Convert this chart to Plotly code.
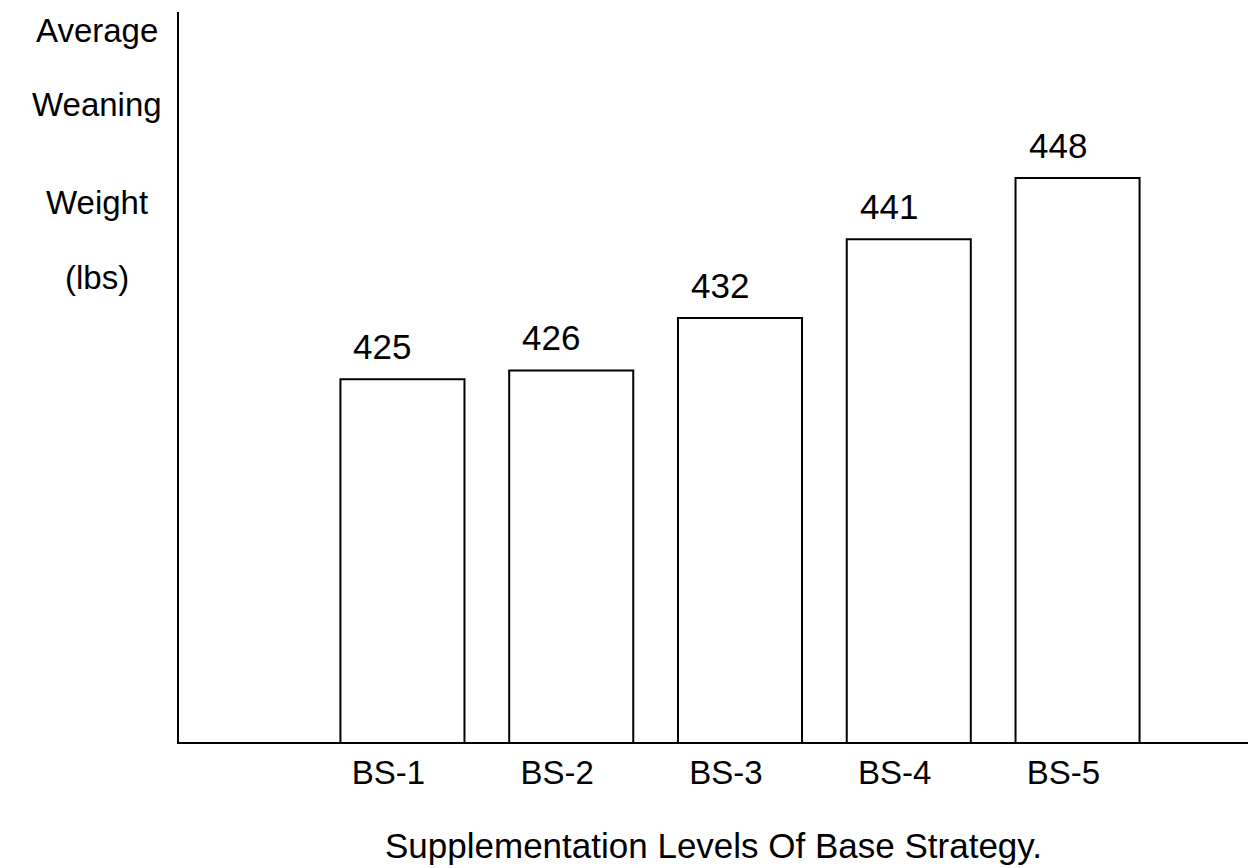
import plotly.graph_objects as go

# Average weaning weight by supplementation level
strategies = ["BS-1", "BS-2", "BS-3", "BS-4", "BS-5"]
weaning_weight = [425, 426, 432, 441, 448]
y_title_lines = ["Average", "Weaning", "Weight", "(lbs)"]
x_title = "Supplementation Levels Of Base Strategy."

FONT = "Liberation Sans, Arial, Helvetica, sans-serif"
FS = 33
FS_BIG = 35

W, H = 1248, 868
ML, MR, MT, MB = 179, 0, 12, 126
PW, PH = W - ML - MR, H - MT - MB


def px_to_paper(xp, yp):
    # page pixel position -> plot-area paper fraction
    return (xp - ML) / PW, (H - MB - yp) / PH


fig = go.Figure(
    go.Bar(
        x=strategies,
        y=weaning_weight,
        width=0.735,
        marker=dict(color="white", line=dict(color="black", width=2)),
        hoverinfo="x+y",
    )
)

# value labels above each bar
for cat, val in zip(strategies, weaning_weight):
    fig.add_annotation(
        x=cat, y=val, xref="x", yref="y",
        text=str(val), showarrow=False,
        yanchor="bottom", yshift=11, xshift=-20,
        font=dict(family=FONT, size=FS_BIG, color="black"),
    )

# stacked y-axis title
title_y_px = [30, 104, 202, 277]
for line, ypx in zip(y_title_lines, title_y_px):
    xp, yp = px_to_paper(97, ypx)
    fig.add_annotation(
        x=xp, y=yp, xref="paper", yref="paper",
        text=line, showarrow=False, xanchor="center", yanchor="middle",
        font=dict(family=FONT, size=FS, color="black"),
    )

xp, yp = px_to_paper(713, 845)
fig.add_annotation(
    x=xp, y=yp, xref="paper", yref="paper",
    text=x_title, showarrow=False, xanchor="center", yanchor="middle",
    font=dict(family=FONT, size=FS_BIG, color="black"),
)

fig.update_layout(
    width=W,
    height=H,
    margin=dict(l=ML, r=MR, t=MT, b=MB),
    paper_bgcolor="white",
    plot_bgcolor="white",
    showlegend=False,
    font=dict(family=FONT, size=FS, color="black"),
)
fig.update_xaxes(
    range=[-1.324, 5.01],
    showline=True, linecolor="black", linewidth=2,
    showgrid=False, zeroline=False, ticks="",
    tickfont=dict(family=FONT, size=FS, color="black"),
    ticklabelshift=-14, ticklabelstandoff=0,
)
fig.update_yaxes(
    range=[383.5, 467.0],
    showline=True, linecolor="black", linewidth=2,
    showgrid=False, zeroline=False, ticks="", showticklabels=False,
)

fig.write_html("out.html")
